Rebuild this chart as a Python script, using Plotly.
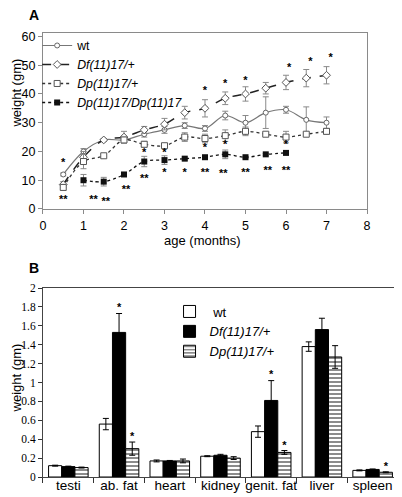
import plotly.graph_objects as go

# ---------------- Panel A data ----------------
age_wt = [0.5, 1, 1.5, 2, 2.5, 3, 3.5, 4, 4.5, 5, 5.5, 6, 6.5, 7]
wt_w = [12, 20, 24, 24, 26, 27.5, 29, 28, 32.5, 30, 33.5, 34.5, 31, 30]
wt_e = [0.5, 1, 0.5, 1, 1, 1.2, 1, 1, 1.5, 2.5, 5.5, 1.2, 4.5, 2]

age_df = [0.5, 1, 1.5, 2, 2.5, 3, 3.5, 4, 4.5, 5, 5.5, 6, 6.5, 7]
df_w = [8.5, 18, 24, 25, 27.5, 29.5, 33.5, 35, 38.5, 40, 42, 44, 45.5, 46.5]
df_e = [1, 2, 0.5, 2, 1.2, 2, 2.2, 3, 2.2, 2.5, 2, 2.5, 3, 3]

age_dp = [0.5, 1, 1.5, 2, 2.5, 3, 3.5, 4, 4.5, 5, 5.5, 6, 6.5, 7]
dp_w = [7.5, 16.5, 18.5, 24, 22.5, 22, 25, 24.5, 25.5, 27, 26, 25, 26, 27]
dp_e = [1, 2.5, 0.5, 1, 1, 0.5, 1.5, 1.5, 2, 1.5, 0.5, 2, 0.5, 1]

age_dd = [1, 1.5, 2, 2.5, 3, 3.5, 4, 4.5, 5, 5.5, 6]
dd_w = [10, 9.5, 12, 16.5, 17, 17.5, 18, 19, 18, 19, 19.5]
dd_e = [2, 1.5, 0.5, 1.8, 1.5, 0.5, 0.5, 1.5, 0.3, 0.3, 0.3]

star_x = [0.5, 4, 4.5, 5, 6.08, 6.6, 7.1, 2.5, 3, 4, 4.5, 6, 3, 3.5,
          0.5, 1.25, 1.55, 2.05, 2.5, 4, 4.45, 5, 5.55, 6]
star_y = [16, 41, 43.5, 44.5, 49, 51, 52.5, 19.5, 19.5, 21, 22, 22, 12.5, 12.5,
          3, 3, 2.5, 6.5, 10.5, 12.5, 12, 12.5, 13, 13]
star_t = ["*"] * 14 + ["**"] * 10

# ---------------- Panel B data ----------------
organs = ["testi", "ab. fat", "heart", "kidney", "genit. fat", "liver", "spleen"]
b_wt = [0.12, 0.56, 0.17, 0.22, 0.48, 1.38, 0.07]
b_wt_e = [0.005, 0.06, 0.01, 0.005, 0.06, 0.05, 0.005]
b_df = [0.11, 1.53, 0.17, 0.23, 0.81, 1.56, 0.08]
b_df_e = [0.005, 0.20, 0.005, 0.01, 0.21, 0.12, 0.005]
b_dp = [0.10, 0.30, 0.17, 0.20, 0.26, 1.27, 0.05]
b_dp_e = [0.005, 0.07, 0.02, 0.015, 0.02, 0.12, 0.005]

bstar_org = ["ab. fat", "ab. fat", "genit. fat", "genit. fat", "spleen"]
bstar_off = [0.0, 0.26, 0.0, 0.26, 0.26]
bstar_y = [1.79, 0.42, 1.08, 0.33, 0.1]

FONT = "Liberation Sans, Arial, sans-serif"
SERIF = "Liberation Serif, Times New Roman, serif"
GRAY = "#8a8a8a"

fig = go.Figure()

err = dict(type="data", thickness=1, width=3, color=GRAY)

fig.add_trace(go.Scatter(
    x=age_wt, y=wt_w, name="wt", mode="lines+markers",
    line=dict(color="#777", width=1.2, shape="spline"),
    marker=dict(symbol="circle", size=5, color="white", line=dict(color="#666", width=1)),
    error_y=dict(array=wt_e, **err), legend="legend", xaxis="x", yaxis="y"))
fig.add_trace(go.Scatter(
    x=age_df, y=df_w, name="<i>Df(11)17/+</i>", mode="lines+markers",
    line=dict(color="#222", width=1.5, dash="dash", shape="spline"),
    marker=dict(symbol="diamond", size=6, color="white", line=dict(color="#555", width=1)),
    error_y=dict(array=df_e, **err), legend="legend", xaxis="x", yaxis="y"))
fig.add_trace(go.Scatter(
    x=age_dp, y=dp_w, name="<i>Dp(11)17/+</i>", mode="lines+markers",
    line=dict(color="#333", width=1.3, dash="dot", shape="spline"),
    marker=dict(symbol="square", size=6, color="white", line=dict(color="#555", width=1)),
    error_y=dict(array=dp_e, **err), legend="legend", xaxis="x", yaxis="y"))
fig.add_trace(go.Scatter(
    x=age_dd, y=dd_w, name="<i>Dp(11)17/Dp(11)17</i>", mode="lines+markers",
    line=dict(color="#111", width=1.3, dash="dot", shape="spline"),
    marker=dict(symbol="square", size=6, color="#111"),
    error_y=dict(array=dd_e, **err), legend="legend", xaxis="x", yaxis="y"))
fig.add_trace(go.Scatter(
    x=star_x, y=star_y, text=star_t, mode="text", showlegend=False,
    textfont=dict(family=FONT, size=11, color="black", weight="bold"), xaxis="x", yaxis="y"))

# Panel B
berr = dict(type="data", thickness=1, width=3, color="black")
fig.add_trace(go.Bar(
    x=organs, y=b_wt, name=" wt", marker=dict(color="white", line=dict(color="black", width=1)),
    error_y=dict(array=b_wt_e, **berr), legend="legend2", xaxis="x2", yaxis="y2"))
fig.add_trace(go.Bar(
    x=organs, y=b_df, name="<i>Df(11)17/+</i>", marker=dict(color="black", line=dict(color="black", width=1)),
    error_y=dict(array=b_df_e, **berr), legend="legend2", xaxis="x2", yaxis="y2"))
fig.add_trace(go.Bar(
    x=organs, y=b_dp, name="<i>Dp(11)17/+</i>",
    marker=dict(color="white", line=dict(color="black", width=1),
                pattern=dict(shape="-", fgcolor="black", bgcolor="white", size=4, solidity=0.45)),
    error_y=dict(array=b_dp_e, **berr), legend="legend2", xaxis="x2", yaxis="y2"))

cat_idx = {c: i for i, c in enumerate(organs)}
fig.add_trace(go.Scatter(
    x=[cat_idx[o] + d for o, d in zip(bstar_org, bstar_off)], y=bstar_y,
    text=["*"] * len(bstar_y), mode="text", showlegend=False,
    textfont=dict(family=FONT, size=11, color="black", weight="bold"), xaxis="x3", yaxis="y2"))

axis_common = dict(showline=True, linewidth=1, mirror=True,
                   ticks="outside", ticklen=4, showgrid=False,
                   zeroline=False, automargin=False)

# page body has an 8px margin: figure is sized to fit the 402x497 window
fig.update_layout(
    width=394, height=489,
    margin=dict(l=0, r=0, t=0, b=0),
    paper_bgcolor="white", plot_bgcolor="white",
    font=dict(family=FONT, color="black"),
    barmode="group", bargap=0.22, bargroupgap=0,
    xaxis=dict(domain=[0.0888, 0.9112], range=[0, 8], dtick=1, anchor="y",
               tickfont=dict(size=12.5), ticklabelstandoff=1,
               linecolor=GRAY, tickcolor=GRAY, **axis_common),
    yaxis=dict(domain=[0.589, 0.9489], range=[0, 61.2], dtick=10, anchor="x",
               tickfont=dict(size=12.5), linecolor=GRAY, tickcolor=GRAY, **axis_common),
    xaxis2=dict(domain=[0.0888, 0.9898], anchor="y2", tickson="boundaries", tickangle=0,
                range=[-0.5, 6.5], automargin=False, ticklabelstandoff=-4,
                tickfont=dict(size=13.5), showline=True, linecolor="#444", mirror=True,
                ticks="outside", ticklen=5, tickcolor="#333", showgrid=False),
    xaxis3=dict(domain=[0.0888, 0.9898], anchor="y2", overlaying="x2", range=[-0.5, 6.5],
                visible=False),
    yaxis2=dict(domain=[0.0409, 0.4274], range=[0, 2], dtick=0.2, anchor="x2",
                tickfont=dict(size=11.5, family=SERIF), linecolor="#444", tickcolor="#333",
                **axis_common),
    legend=dict(x=0.074, y=0.953, xanchor="left", yanchor="top", bgcolor="rgba(0,0,0,0)",
                font=dict(size=12.3), tracegroupgap=0, itemwidth=30),
    legend2=dict(x=0.41, y=0.41, xanchor="left", yanchor="top", bgcolor="rgba(0,0,0,0)",
                 font=dict(size=13), tracegroupgap=0),
    annotations=[
        dict(text="<b>A</b>", x=0.048, y=0.986, xref="paper", yref="paper", showarrow=False,
             xanchor="left", yanchor="middle", font=dict(size=14)),
        dict(text="<b>B</b>", x=0.048, y=0.468, xref="paper", yref="paper", showarrow=False,
             xanchor="left", yanchor="middle", font=dict(size=14)),
        dict(text="weight (gm)", textangle=-90, x=0.0, y=0.826, xref="paper", yref="paper",
             showarrow=False, xanchor="left", yanchor="middle", borderpad=0,
             font=dict(size=13)),
        dict(text="weight (gm)", textangle=-90, x=0.0, y=0.2434, xref="paper", yref="paper",
             showarrow=False, xanchor="left", yanchor="middle", borderpad=0,
             font=dict(size=13)),
        dict(text="age (months)", x=0.4924, y=0.524, xref="paper", yref="paper",
             showarrow=False, xanchor="center", yanchor="middle", font=dict(size=13)),
    ],
)

fig.write_html("out.html")
